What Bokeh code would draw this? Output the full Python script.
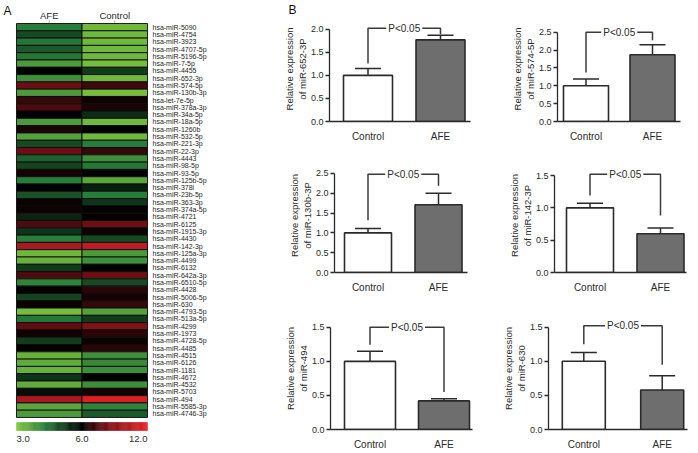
from bokeh.plotting import figure
from bokeh.models import Range1d, FixedTicker, PrintfTickFormatter
from bokeh.layouts import row, column
from bokeh.embed import file_html
from bokeh.resources import INLINE
from bokeh.core.properties import value

FONT = "Liberation Sans"
TXT = "#2a2a2a"

# ---------------- data: heatmap (panel A) ----------------
heat_groups = ["AFE", "Control"]
mirnas = [
    "hsa-miR-5090", "hsa-miR-4754", "hsa-miR-3923", "hsa-miR-4707-5p", "hsa-miR-5196-5p",
    "hsa-miR-7-5p", "hsa-miR-4455", "hsa-miR-652-3p", "hsa-miR-574-5p", "hsa-miR-130b-3p",
    "hsa-let-7e-5p", "hsa-miR-378a-3p", "hsa-miR-34a-5p", "hsa-miR-18a-5p", "hsa-miR-1260b",
    "hsa-miR-532-5p", "hsa-miR-221-3p", "hsa-miR-22-3p", "hsa-miR-4443", "hsa-miR-98-5p",
    "hsa-miR-93-5p", "hsa-miR-125b-5p", "hsa-miR-378i", "hsa-miR-23b-5p", "hsa-miR-363-3p",
    "hsa-miR-374a-5p", "hsa-miR-4721", "hsa-miR-6125", "hsa-miR-1915-3p", "hsa-miR-4430",
    "hsa-miR-142-3p", "hsa-miR-125a-3p", "hsa-miR-4499", "hsa-miR-6132", "hsa-miR-642a-3p",
    "hsa-miR-6510-5p", "hsa-miR-4428", "hsa-miR-5006-5p", "hsa-miR-630", "hsa-miR-4793-5p",
    "hsa-miR-513a-5p", "hsa-miR-4299", "hsa-miR-1973", "hsa-miR-4728-5p", "hsa-miR-4485",
    "hsa-miR-4515", "hsa-miR-6126", "hsa-miR-1181", "hsa-miR-4672", "hsa-miR-4532",
    "hsa-miR-5703", "hsa-miR-494", "hsa-miR-5585-3p", "hsa-miR-4746-3p",
]
afe_expr = [
    4.3, 5.0, 4.4, 4.8, 4.4, 3.8, 6.0, 4.0, 8.0, 3.8,
    7.0, 7.4, 6.0, 3.8, 6.5, 3.7, 5.0, 8.0, 4.7, 5.1,
    6.4, 4.3, 6.0, 4.9, 6.2, 6.3, 5.5, 7.4, 5.3, 4.3,
    10.0, 3.3, 3.4, 5.2, 7.4, 4.2, 6.1, 5.1, 6.2, 3.2,
    4.4, 7.8, 6.3, 5.2, 6.1, 3.4, 3.5, 3.4, 5.3, 3.5,
    5.8, 10.0, 3.6, 3.8,
]
ctrl_expr = [
    3.3, 3.3, 3.3, 3.3, 3.3, 3.2, 5.2, 3.3, 7.2, 3.2,
    6.3, 6.5, 5.4, 3.3, 6.0, 3.3, 4.3, 7.0, 4.0, 4.4,
    6.0, 3.6, 5.6, 4.3, 5.3, 6.1, 6.1, 8.0, 6.2, 5.0,
    10.6, 3.8, 4.0, 6.0, 8.0, 5.0, 6.8, 6.4, 7.0, 3.7,
    5.2, 8.6, 6.8, 6.2, 6.8, 4.0, 4.1, 4.0, 6.0, 4.0,
    6.4, 11.5, 4.2, 4.8,
]
cbar_ticks = [3.0, 6.0, 12.0]
cbar_labels = ["3.0", "6.0", "12.0"]

# ---------------- data: bar charts (panel B) ----------------
groups = ["Control", "AFE"]
charts = [
    # label, means, sem, (bracket y, left end, right end), y ticks
    ("miR-652-3P", [1.0, 1.77], [0.15, 0.10], (2.02, 1.26, 1.89), [0.0, 0.5, 1.0, 1.5, 2.0]),
    ("miR-574-5P", [1.0, 1.87], [0.19, 0.28], (2.5, 1.37, 2.28), [0.0, 0.5, 1.0, 1.5, 2.0, 2.5]),
    ("miR-130b-3P", [1.0, 1.71], [0.11, 0.29], (2.48, 1.32, 2.19), [0.0, 0.5, 1.0, 1.5, 2.0, 2.5]),
    ("miR-142-3P", [1.0, 0.60], [0.07, 0.09], (1.52, 1.19, 0.88), [0.0, 0.5, 1.0, 1.5]),
    ("miR-494", [1.0, 0.42], [0.15, 0.03], (1.5, 1.245, 0.55), [0.0, 0.5, 1.0, 1.5]),
    ("miR-630", [1.0, 0.58], [0.13, 0.21], (1.52, 1.25, 0.95), [0.0, 0.5, 1.0, 1.5]),
]
p_text = "P<0.05"

# ---------------- layout geometry (pixels) ----------------
# w, h, axis_left, axis_right, centre1, centre2, bar_w, zero_px, top_tick_px, frame_top
geoms = [
    (212, 150, 61, 202, 99.5, 172.0, 49, 122, 28, 15),
    (215, 150, 77, 200, 105.5, 172.0, 45, 121, 25, 8),
    (212, 149, 66, 199, 99.5, 170.0, 47, 123, 23, 8),
    (215, 149, 74, 206, 109.5, 180.0, 47, 122, 25, 8),
    (212, 153, 62, 204, 101.5, 175.5, 51, 137, 29, 8),
    (215, 153, 68, 207, 103.3, 181.7, 43, 138, 29, 8),
]


def lerp(c0, c1, t):
    return tuple(int(round(a + (b - a) * t)) for a, b in zip(c0, c1))


def heat_color(v):
    if v <= 6:
        t = min(1.0, (6 - v) / 3.0)
        stops = [(0.0, (0, 0, 0)), (0.55, (38, 122, 58)), (1.0, (132, 200, 62))]
    else:
        t = min(1.0, (v - 6) / 6.0)
        stops = [(0.0, (0, 0, 0)), (0.35, (112, 16, 22)), (1.0, (232, 34, 40))]
    rgb = stops[-1][1]
    for (t0, c0), (t1, c1) in zip(stops[:-1], stops[1:]):
        if t <= t1:
            rgb = lerp(c0, c1, (t - t0) / (t1 - t0))
            break
    return "#%02x%02x%02x" % rgb


def cbar_pos(v):
    return (v - 3.0) / 3.0 if v <= 6 else 1.0 + (v - 6.0) / 6.0


# ---------------- panel A ----------------
HW, HH = 268, 452
cell_px = 65.5
cells_left = 16
row_px = 7.296
cells_top = 23
hx0 = -cells_left / cell_px
hx1 = len(heat_groups) + (HW - cells_left - len(heat_groups) * cell_px) / cell_px
hy_top = -cells_top / row_px
hy_bot = (HH - cells_top) / row_px


def ry(px):
    return (px - cells_top) / row_px


heat = figure(width=HW, height=HH, x_range=Range1d(hx0, hx1), y_range=Range1d(hy_bot, hy_top),
              output_backend="svg", toolbar_location=None, min_border=0,
              x_axis_location=None, y_axis_location=None)
heat.grid.visible = False
heat.outline_line_color = None

L, R, T, B, C = [], [], [], [], []
for gi, vals in enumerate([afe_expr, ctrl_expr]):
    for i, v in enumerate(vals):
        L.append(gi); R.append(gi + 1); T.append(i); B.append(i + 1); C.append(heat_color(v))
heat.quad(left=L, right=R, top=T, bottom=B, fill_color=C, line_color="#0b0b0b", line_width=0.9)

n = len(mirnas)
heat.text(x=[len(heat_groups) + 5.0 / cell_px] * n, y=[i + 0.5 for i in range(n)], text=mirnas,
          text_font=value(FONT), text_font_size=value("7px"), text_baseline="middle",
          text_align="left", text_color="#1e1e1e")
heat.text(x=[g + 0.5 for g in range(len(heat_groups))], y=[ry(15)] * 2, text=heat_groups,
          text_font=value(FONT), text_font_size=value("9.5px"), text_baseline="middle",
          text_align="center", text_color=TXT)
heat.segment(x0=[g + 0.5 for g in range(2)], y0=[ry(20)] * 2, x1=[g + 0.5 for g in range(2)],
             y1=[ry(22)] * 2, line_color="#999999", line_width=1)
heat.text(x=[3.0 / cell_px + hx0], y=[ry(3)], text=["A"], text_font=value(FONT),
          text_font_size=value("12px"), text_baseline="top", text_align="left", text_color="#111111")

# colour bar
NSTEP = 120
cb_top, cb_bot = ry(422), ry(430)
cl, cr, cc = [], [], []
for k in range(NSTEP):
    p0 = 2.0 * k / NSTEP
    p1 = 2.0 * (k + 1) / NSTEP
    pm = 0.5 * (p0 + p1)
    v = 3.0 + 3.0 * pm if pm <= 1 else 6.0 + 6.0 * (pm - 1)
    cl.append(p0); cr.append(p1); cc.append(heat_color(v))
heat.quad(left=cl, right=cr, top=[cb_top] * NSTEP, bottom=[cb_bot] * NSTEP, fill_color=cc,
          line_color=cc, line_width=0.5)
aligns = ["left", "center", "right"]
for tv, tl, al in zip(cbar_ticks, cbar_labels, aligns):
    heat.text(x=[cbar_pos(tv)], y=[ry(438)], text=[tl], text_font=value(FONT),
              text_font_size=value("9.5px"), text_baseline="middle", text_align=al, text_color=TXT)


# ---------------- panel B ----------------
def bar_chart(spec, g, title=None):
    label, means, sems, brk, ticks = spec
    w, h, axL, axR, c1, c2, bw, zero, top, ftop = g
    d = c2 - c1
    scale = (zero - top) / ticks[-1]
    y_end = (zero - ftop) / scale
    xs = [i + 1 for i in range(len(groups))]
    p = figure(width=w, height=h,
               x_range=Range1d(1 - (c1 - axL) / d, 2 + (axR - c2) / d),
               y_range=Range1d(0, y_end),
               min_border_left=axL, min_border_right=w - axR, min_border_top=ftop,
               min_border_bottom=h - zero,
               output_backend="svg", toolbar_location=None)
    p.grid.visible = False
    p.outline_line_color = None
    if title:
        p.title.text = title
        p.title.text_font = FONT
        p.title.text_font_size = "12px"
        p.title.text_font_style = "normal"
        p.title.text_color = "#111111"
        p.title.align = "left"
        p.title.offset = 20 - axL
        p.title.standoff = 0
    lc = "#2a2a2a"
    p.vbar(x=xs, top=means, width=bw / d, bottom=0, fill_color=["#ffffff", "#6e6e6e"],
           line_color=lc, line_width=1.6)
    tops = [m + s for m, s in zip(means, sems)]
    cw = 13.0 / d
    p.segment(x0=xs, y0=means, x1=xs, y1=tops, line_color=lc, line_width=1.5)
    p.segment(x0=[x - cw for x in xs], y0=tops, x1=[x + cw for x in xs], y1=tops,
              line_color=lc, line_width=1.5)
    yb, yl, yr = brk
    gap = 18.0 / d
    mid = 0.5 * (xs[0] + xs[1])
    p.line(x=[xs[0], xs[0], mid - gap], y=[yl, yb, yb], line_color="#3a3a3a", line_width=1.5)
    p.line(x=[mid + gap, xs[1], xs[1]], y=[yb, yb, yr], line_color="#3a3a3a", line_width=1.5)
    p.text(x=[mid], y=[yb], text=[p_text], text_font=value(FONT), text_font_size=value("10px"),
           text_baseline="middle", text_align="center", text_color=TXT)

    xa = p.xaxis[0]
    xa.ticker = FixedTicker(ticks=xs)
    xa.major_label_overrides = {x: gname for x, gname in zip(xs, groups)}
    xa.major_tick_line_color = None
    xa.minor_tick_line_color = None
    xa.axis_line_color = lc
    xa.axis_line_width = 1.3
    xa.major_label_text_font = FONT
    xa.major_label_text_font_size = "10px"
    xa.major_label_text_color = TXT
    xa.major_label_standoff = 3

    ya = p.yaxis[0]
    ya.ticker = FixedTicker(ticks=ticks)
    ya.bounds = (0, ticks[-1])
    ya.formatter = PrintfTickFormatter(format="%.1f")
    ya.major_tick_out = 4
    ya.major_tick_in = 0
    ya.minor_tick_line_color = None
    ya.axis_line_color = lc
    ya.axis_line_width = 1.3
    ya.major_tick_line_color = lc
    ya.major_tick_line_width = 1.3
    ya.major_label_text_font = FONT
    ya.major_label_text_font_size = "9px"
    ya.major_label_text_color = TXT
    ya.major_label_standoff = 2
    ya.axis_label = "Relative expression\nof " + label
    ya.axis_label_text_font = FONT
    ya.axis_label_text_font_size = "9.5px"
    ya.axis_label_text_font_style = "normal"
    ya.axis_label_text_color = TXT
    ya.axis_label_standoff = 0
    return p


figs = [bar_chart(s, g, "B" if i == 0 else None) for i, (s, g) in enumerate(zip(charts, geoms))]
right = column(row(figs[0], figs[1]), row(figs[2], figs[3]), row(figs[4], figs[5]))
page = row(heat, right)

open("out.html", "w").write(file_html(page, INLINE))
